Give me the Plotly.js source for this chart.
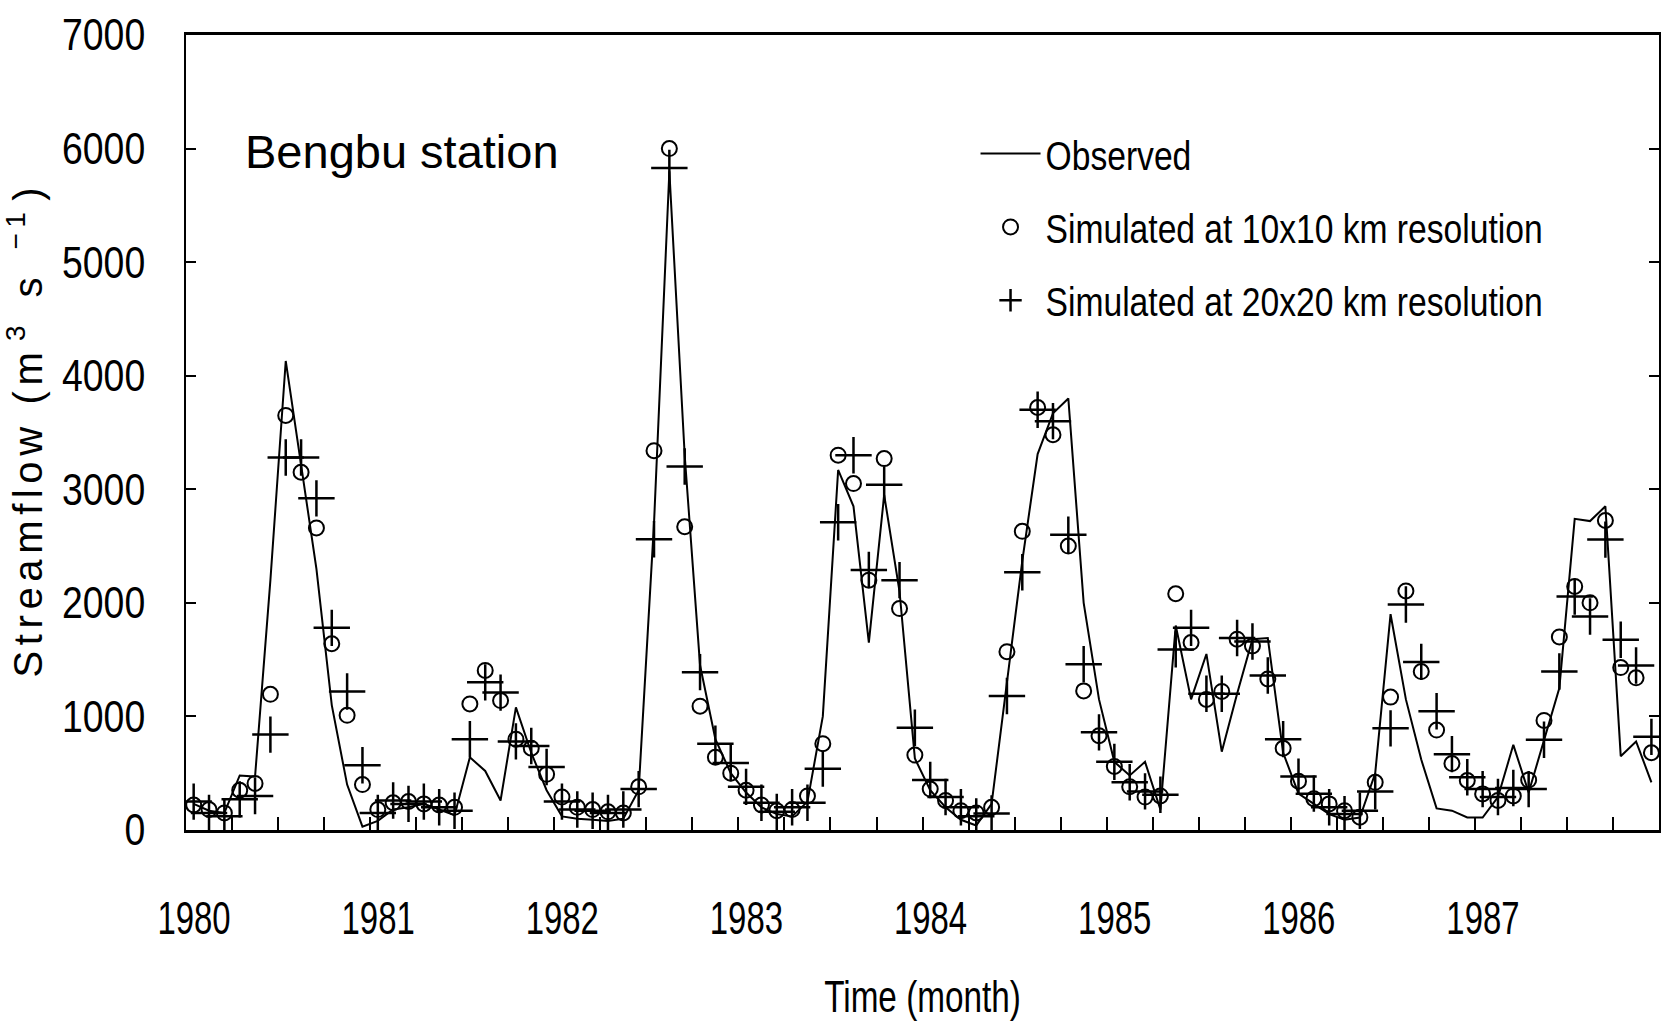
<!DOCTYPE html>
<html>
<head>
<meta charset="utf-8">
<script src="https://cdn.plot.ly/plotly-3.0.1.min.js"></script>
<style>
  html, body { margin: 0; padding: 0; background: #ffffff; }
  #chart { width: 1662px; height: 1022px; }
</style>
</head>
<body>
<div id="chart"></div>
<script>
// ---- Data (monthly, Jan 1980 - Dec 1987), streamflow in m3/s ----
const years = ['1980', '1981', '1982', '1983', '1984', '1985', '1986', '1987'];

const observed = [
  230, 170, 150, 480, 470, 2200, 4130, 3200, 2300, 1100, 400, 30,
  80, 180, 200, 230, 180, 130, 640, 520, 260, 1080, 680, 350,
  120, 100, 90, 80, 100, 350, 2700, 5800, 3300, 1450, 800, 500,
  330, 200, 140, 120, 250, 1000, 3170, 2850, 1650, 2950, 2100, 630,
  350, 200, 90, 40, 230, 1320, 2370, 3310, 3670, 3800, 2000, 1150,
  600, 480, 600, 180, 1800, 1150, 1550, 690, 1200, 1680, 1690, 680,
  320, 230, 140, 90, 110, 500, 1900, 1150, 620, 190, 170, 110,
  110, 290, 750, 330, 780, 1250, 2740, 2720, 2850, 650, 780, 420
];

const sim10km = [
  220, 180, 150, 350, 410, 1195, 3650, 3150, 2660, 1640, 1010, 400,
  180, 240, 250, 230, 220, 200, 1110, 1405, 1140, 800, 720, 490,
  290, 200, 180, 160, 150, 380, 3340, 6000, 2670, 1090, 640, 500,
  350, 220, 170, 180, 300, 760, 3300, 3050, 2200, 3270, 1950, 660,
  360, 260, 170, 150, 200, 1570, 2630, 3720, 3480, 2500, 1225, 830,
  560, 380, 290, 300, 2080, 1650, 1150, 1220, 1680, 1620, 1330, 720,
  430, 275, 230, 170, 113, 420, 1170, 2105, 1395, 880, 585, 436,
  318, 260, 300, 440, 965, 1700, 2145, 2000, 2725, 1430, 1340, 680
];

const sim20km = [
  250, 150, 120, 270, 300, 840, 3280, 3280, 2920, 1780, 1220, 570,
  150, 260, 230, 250, 200, 170, 800, 1300, 1210, 780, 740, 555,
  250, 180, 170, 150, 180, 360, 2560, 5830, 3200, 1390, 760, 590,
  380, 240, 160, 200, 240, 540, 2710, 3300, 2290, 3040, 2200, 900,
  440, 290, 200, 120, 145, 1180, 2270, 3700, 3600, 2600, 1460, 860,
  600, 420, 340, 310, 1590, 1780, 1200, 1200, 1690, 1660, 1360, 800,
  470, 320, 200, 140, 170, 340, 895, 1985, 1480, 1045, 668, 465,
  360, 290, 370, 360, 795, 1395, 2055, 1880, 2557, 1675, 1448, 820
];

const seriesNames = ['Observed', 'Simulated at 10x10 km resolution', 'Simulated at 20x20 km resolution'];
const yTickValues = [0, 1000, 2000, 3000, 4000, 5000, 6000, 7000];

// ---- Build ----
// time axis in decimal years; each monthly value sits at mid-month
const timePos = observed.map((_, i) => Number(years[Math.floor(i / 12)]) + ((i % 12) + 0.5) / 12);
const firstYear = Number(years[0]);
const endYear = Number(years[years.length - 1]) + 1;

const SANS = '"Liberation Sans", Arial, sans-serif';

const traces = [
  {
    x: timePos, y: observed, name: seriesNames[0], legendgroup: 'a',
    type: 'scatter', mode: 'lines',
    line: { color: '#000000', width: 2 }
  },
  {
    x: timePos, y: sim10km, name: seriesNames[1], legendgroup: 'b',
    type: 'scatter', mode: 'markers',
    marker: { symbol: 'circle-open', size: 15, color: '#000000', line: { color: '#000000', width: 2 } }
  },
  {
    x: timePos, y: sim20km, name: seriesNames[2], legendgroup: 'c',
    type: 'scatter', mode: 'markers',
    marker: { symbol: 'cross-thin-open', size: 26, color: '#000000', line: { color: '#000000', width: 2.5 } }
  }
];

const layout = {
  width: 1662, height: 1022,
  paper_bgcolor: '#ffffff', plot_bgcolor: '#ffffff',
  margin: { l: 186, r: 3, t: 35, b: 192, autoexpand: false },
  showlegend: true,
  legend: {
    x: 0.536, y: 0.8925, xanchor: 'left', yanchor: 'top',
    bgcolor: 'rgba(0,0,0,0)', borderwidth: 0,
    font: { family: SANS, size: 41, color: '#000000' },
    itemwidth: 60, tracegroupgap: 17
  },
  xaxis: {
    range: [firstYear, endYear - 0.0005], autorange: false,
    tickmode: 'linear', tick0: firstYear, dtick: 1, tickformat: 'd',
    ticks: 'inside', ticklen: 13, tickwidth: 2, tickcolor: '#000000',
    minor: { tick0: firstYear, dtick: 0.25, ticks: 'inside', ticklen: 13, tickwidth: 2, tickcolor: '#000000', showgrid: false },
    ticklabelshift: 8, ticklabelstandoff: 45,
    tickfont: { family: SANS, size: 47, color: '#000000' },
    showline: true, linecolor: '#000000', linewidth: 3, mirror: true,
    showgrid: false, zeroline: false,
    title: { text: 'Time (month)', font: { family: SANS, size: 45, color: '#000000' }, standoff: 38 }
  },
  yaxis: {
    range: [0, 7000], autorange: false,
    tickmode: 'array', tickvals: yTickValues, ticktext: yTickValues.map(String),
    ticks: 'inside', ticklen: 10, tickwidth: 2, tickcolor: '#000000',
    ticklabelstandoff: 30,
    tickfont: { family: SANS, size: 44, color: '#000000' },
    showline: true, linecolor: '#000000', linewidth: 2, mirror: 'allticks',
    showgrid: false, zeroline: false,
    title: {
      text: 'Streamflow (m<sup>3</sup> s <sup>\u22121</sup>)',
      font: { family: SANS, size: 40, color: '#000000' }, standoff: 4
    }
  },
  annotations: [
    {
      text: 'Bengbu station', xref: 'paper', yref: 'paper',
      x: 0.039, y: 0.853, xanchor: 'left', yanchor: 'middle', showarrow: false,
      font: { family: SANS, size: 47, color: '#000000' }
    }
  ]
};

// condensed look of the original lettering: scale text widths
function squeeze(selector, factor) {
  document.querySelectorAll(selector).forEach(function (el) {
    const len = el.getComputedTextLength();
    if (len > 0) {
      el.setAttribute('textLength', (len * factor).toFixed(1));
      el.setAttribute('lengthAdjust', 'spacingAndGlyphs');
    }
  });
}

Plotly.newPlot('chart', traces, layout, { displayModeBar: false, staticPlot: true }).then(function () {
  squeeze('.xtick text', 0.70);
  squeeze('.ytick text', 0.85);
  squeeze('.legendtext', 0.82);
  squeeze('.xtitle', 0.74);
  const yt = document.querySelector('.ytitle');
  if (yt) {
    yt.setAttribute('textLength', '490');
    yt.setAttribute('lengthAdjust', 'spacing');
  }
});
</script>
</body>
</html>
